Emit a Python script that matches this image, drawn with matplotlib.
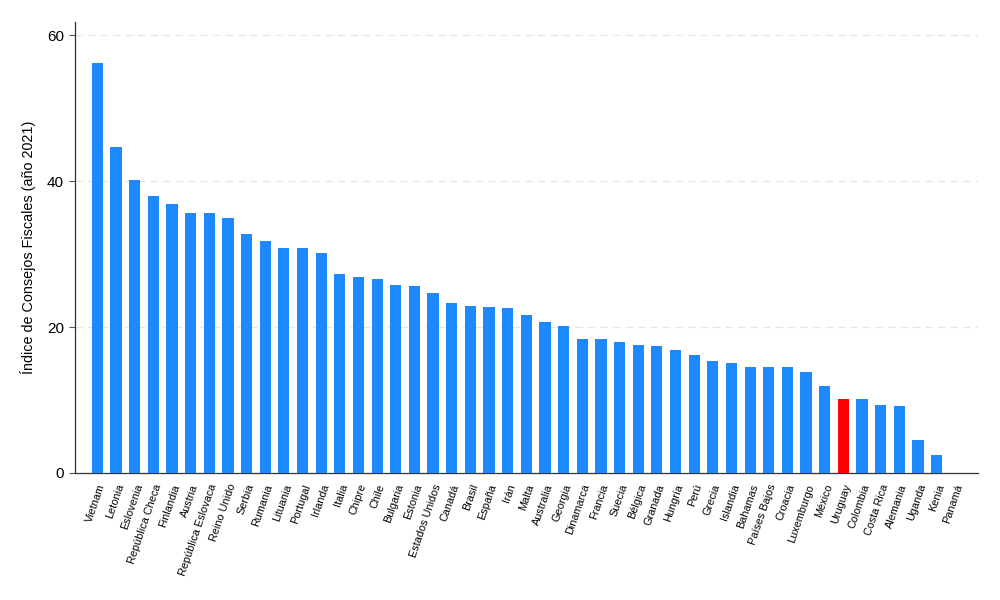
import matplotlib
matplotlib.use("Agg")
import matplotlib.pyplot as plt

plt.rcParams['font.family'] = ['Liberation Sans', 'DejaVu Sans']

countries = ["Vietnam", "Letonia", "Eslovenia", "República Checa", "Finlandia", "Austria",
             "República Eslovaca", "Reino Unido", "Serbia", "Rumania", "Lituania", "Portugal",
             "Irlanda", "Italia", "Chipre", "Chile", "Bulgaria", "Estonia", "Estados Unidos",
             "Canadá", "Brasil", "España", "Irán", "Malta", "Australia", "Georgia", "Dinamarca",
             "Francia", "Suecia", "Bélgica", "Granada", "Hungría", "Perú", "Grecia", "Islandia",
             "Bahamas", "Países Bajos", "Croacia", "Luxemburgo", "México", "Uruguay", "Colombia",
             "Costa Rica", "Alemania", "Uganda", "Kenia", "Panamá"]
values = [56.2, 44.7, 40.1, 38.0, 36.8, 35.6, 35.6, 34.9, 32.7, 31.8, 30.8, 30.8,
          30.2, 27.2, 26.8, 26.6, 25.75, 25.6, 24.6, 23.3, 22.9, 22.8, 22.6, 21.7,
          20.7, 20.2, 18.4, 18.3, 17.9, 17.6, 17.4, 16.8, 16.1, 15.3, 15.1, 14.5,
          14.5, 14.5, 13.8, 11.9, 10.2, 10.1, 9.3, 9.2, 4.5, 2.5, 0.0]
highlight = "Uruguay"
yticks = [0, 20, 40, 60]

colors = ['#FF0000' if c == highlight else '#1E88FF' for c in countries]

fig = plt.figure(figsize=(10, 6), dpi=100)
ax = fig.add_axes([0.075, 0.2117, 0.903, 0.7516])
x = list(range(len(countries)))
ax.bar(x, values, width=0.6, color=colors, zorder=3)

ax.set_xlim(-1.2, len(countries) - 1 + 1.22)
ax.set_ylim(0, 61.8)
ax.set_yticks(yticks)
ax.set_yticklabels([str(v) for v in yticks], fontsize=11)
for v in yticks[1:]:
    ax.axhline(v, color='#E6E6E6', lw=0.9, ls=(0, (6, 4)), zorder=1)

ax.set_xticks(x)
ax.set_xticklabels(countries, rotation=71, ha='right', rotation_mode='anchor', fontsize=7.8)
ax.tick_params(axis='x', length=0, pad=7)
ax.tick_params(axis='y', length=4, width=0.8, color='#555555', pad=4)

for s in ['top', 'right']:
    ax.spines[s].set_visible(False)
ax.spines['left'].set_color('#333333')
ax.spines['bottom'].set_color('#333333')
ax.spines['left'].set_linewidth(0.9)
ax.spines['bottom'].set_linewidth(0.9)

ax.set_ylabel("Índice de Consejos Fiscales (año 2021)", fontsize=10.4, labelpad=8)

fig.savefig("out.png", dpi=100, facecolor='white')
